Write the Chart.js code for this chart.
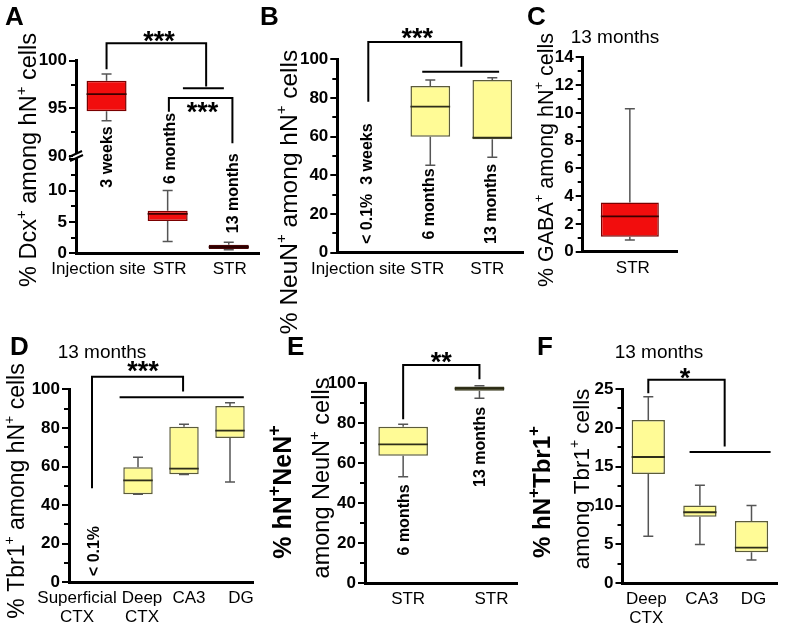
<!DOCTYPE html>
<html>
<head>
<meta charset="utf-8">
<script src="https://cdn.jsdelivr.net/npm/chart.js@4.4.1/dist/chart.umd.min.js"></script>
<style>
  html, body { margin: 0; padding: 0; background: #fff; }
  #wrap { position: relative; width: 793px; height: 630px; }
  #wrap canvas { position: absolute; left: 0; top: 0; }
</style>
</head>
<body>
<div id="wrap">
  <canvas id="cA" width="793" height="630"></canvas>
  <canvas id="cB" width="793" height="630"></canvas>
  <canvas id="cC" width="793" height="630"></canvas>
  <canvas id="cD" width="793" height="630"></canvas>
  <canvas id="cE" width="793" height="630"></canvas>
  <canvas id="cF" width="793" height="630"></canvas>
</div>
<script>
// ---- data (box plots: q1, q3, median, whisker low / high) ----
const catsA = ['Injection site', 'STR', 'STR'];
const q1A = [94.7, 5.15, 0.7];
const q3A = [97.9, 6.8, 1.35];
const medA = [96.5, 6.27, 1.0];
const loA = [93.7, 1.9, 0.55];
const hiA = [98.6, 10.0, 1.75];
const upperA = [true, false, false]; // which boxes sit above the axis break

const catsB = ['Injection site', 'STR', 'STR'];
const q1B = [null, 60, 58.6];
const q3B = [null, 86.2, 89.3];
const medB = [null, 75.5, 59.5];
const loB = [null, 45.2, 49.3];
const hiB = [null, 89.3, 90.5];

const catsC = ['STR'];
const q1C = [1.08];
const q3C = [3.55];
const medC = [2.55];
const loC = [0.85];
const hiC = [10.3];

const catsD = [['Superficial', 'CTX'], ['Deep', 'CTX'], 'CA3', 'DG'];
const q1D = [null, 45.6, 56.0, 74.8];
const q3D = [null, 59.6, 80.6, 91.3];
const medD = [null, 52.8, 58.9, 78.6];
const loD = [null, 45.6, 55.9, 52.0];
const hiD = [null, 64.8, 81.9, 93.0];

const catsE = ['STR', 'STR'];
const q1E = [63.8, 96.3];
const q3E = [78.3, 98.4];
const medE = [69.5, 97.4];
const loE = [53.3, 92.5];
const hiE = [79.5, 98.8];

const catsF = [['Deep', 'CTX'], 'CA3', 'DG'];
const q1F = [14.07, 8.57, 3.98];
const q3F = [21.0, 10.0, 8.0];
const medF = [16.25, 9.14, 4.58];
const loF = [6.05, 5.0, 3.0];
const hiF = [24.0, 12.6, 10.0];

// ---- styling ----
const FONT = '"Liberation Sans", Arial, Helvetica, sans-serif';
Chart.defaults.font.family = FONT;
Chart.defaults.color = '#000';
Chart.defaults.animation = false;

const RED = {fill: '#f20d0d', edge: '#7a0000', med: '#3d0000'};
const DARKRED = {fill: '#8e1c1c', edge: '#4a0505', med: '#2a0000'};
const YEL = {fill: '#fffb96', edge: '#5b5b3a', med: '#2e2e1a'};
const OLIVE = {fill: '#8f8f4c', edge: '#3c3c20', med: '#2a2a14'};
const WHISKER = '#555';
const YW = 40, XH = 40;

function pad(l, t, r, b) {
  return {left: l - YW, top: t, right: 793 - r, bottom: 630 - b - XH};
}

function boxSet(q1, q3, med, lo, hi, colors, bp, axis, keep) {
  const ok = i => q1[i] != null && (!keep || keep[i]);
  return {
    data: q1.map((v, i) => ok(i) ? [v, q3[i]] : null),
    med: med.map((v, i) => ok(i) ? v : null),
    lo: lo.map((v, i) => ok(i) ? v : null),
    hi: hi.map((v, i) => ok(i) ? v : null),
    backgroundColor: colors.map(c => c.fill),
    borderColor: colors.map(c => c.edge),
    medColors: colors.map(c => c.med),
    borderWidth: 1.5,
    borderSkipped: false,
    grouped: false,
    categoryPercentage: 1,
    barPercentage: bp,
    yAxisID: axis || 'y'
  };
}

function yScale(min, max, step, more) {
  return Object.assign({
    type: 'linear', position: 'left', min: min, max: max,
    grid: {display: false, drawTicks: false},
    border: {display: true, color: '#000', width: 3},
    ticks: {stepSize: step, padding: 9, autoSkip: false, color: '#000',
            font: {size: 17, weight: 'bold'}},
    afterFit: s => { s.width = YW; }
  }, more || {});
}

// category labels are drawn by the deco plugin (some are nudged sideways)
function xScale() {
  return {
    grid: {display: false, drawTicks: false},
    border: {display: true, color: '#000', width: 3},
    ticks: {display: false},
    afterFit: s => { s.height = XH; }
  };
}

// rich text: "^x" makes x a superscript
function drawRich(ctx, text, cx, cy, size, weight, rot, supScale) {
  const parts = text.split('^');
  const segs = [{t: parts[0], sup: false}];
  for (let i = 1; i < parts.length; i++) {
    segs.push({t: parts[i][0], sup: true});
    if (parts[i].length > 1) segs.push({t: parts[i].slice(1), sup: false});
  }
  const f = sup => (weight || 'normal') + ' ' + (sup ? Math.round(size * (supScale || 0.62)) : size) + 'px ' + FONT;
  let w = 0;
  segs.forEach(s => { ctx.font = f(s.sup); s.w = ctx.measureText(s.t).width; w += s.w; });
  ctx.save();
  ctx.translate(cx, cy);
  if (rot) ctx.rotate(-Math.PI / 2);
  ctx.fillStyle = '#000';
  ctx.textAlign = 'left';
  ctx.textBaseline = 'alphabetic';
  let x = -w / 2;
  const base = size * 0.36;
  segs.forEach(s => {
    ctx.font = f(s.sup);
    ctx.fillText(s.t, x, s.sup ? base - size * 0.45 : base);
    x += s.w;
  });
  ctx.restore();
}

const boxPlugin = {
  id: 'boxes',
  afterDatasetsDraw(chart) {
    const ctx = chart.ctx;
    chart.data.datasets.forEach((ds, di) => {
      const meta = chart.getDatasetMeta(di);
      const ys = chart.scales[meta.yAxisID];
      meta.data.forEach((bar, i) => {
        if (ds.data[i] == null) return;
        const x = bar.x, half = bar.width / 2, cap = 5;
        const yq1 = ys.getPixelForValue(ds.data[i][0]);
        const yq3 = ys.getPixelForValue(ds.data[i][1]);
        const ylo = ys.getPixelForValue(ds.lo[i]);
        const yhi = ys.getPixelForValue(ds.hi[i]);
        const ym = ys.getPixelForValue(ds.med[i]);
        ctx.save();
        ctx.strokeStyle = WHISKER;
        ctx.lineWidth = 1.5;
        ctx.beginPath();
        ctx.moveTo(x, yq3); ctx.lineTo(x, yhi);
        ctx.moveTo(x - cap, yhi); ctx.lineTo(x + cap, yhi);
        ctx.moveTo(x, yq1); ctx.lineTo(x, ylo);
        ctx.moveTo(x - cap, ylo); ctx.lineTo(x + cap, ylo);
        ctx.stroke();
        ctx.strokeStyle = ds.medColors[i];
        ctx.lineWidth = 1.8;
        ctx.beginPath();
        ctx.moveTo(x - half, ym); ctx.lineTo(x + half, ym);
        ctx.stroke();
        ctx.restore();
      });
    });
  }
};

function deco(cfg) {
  return {
    id: 'deco',
    afterDraw(chart) {
      const ctx = chart.ctx, xs = chart.scales.x;
      // tick marks, major and minor
      (cfg.ticks || []).forEach(t => {
        const s = chart.scales[t.axis];
        ctx.save();
        ctx.strokeStyle = '#000';
        ctx.lineWidth = 2;
        const top = t.upTo != null ? t.upTo : s.max;
        for (let v = s.min; v <= top + 1e-6; v += t.minor) {
          const y = Math.round(s.getPixelForValue(v));
          const r = v / t.major;
          const len = Math.abs(r - Math.round(r)) < 1e-6 ? 7 : 5;
          ctx.beginPath();
          ctx.moveTo(s.right, y); ctx.lineTo(s.right - len, y);
          ctx.stroke();
        }
        ctx.restore();
      });
      // axis break mark
      if (cfg.breakAt) {
        const s = chart.scales[cfg.breakAt];
        const x = s.right, y = s.bottom;
        ctx.save();
        ctx.fillStyle = '#fff';
        ctx.fillRect(x - 3, y - 2, 6, 4);
        ctx.strokeStyle = '#000';
        ctx.lineWidth = 2;
        ctx.beginPath();
        ctx.moveTo(x - 7, y + 1); ctx.lineTo(x + 6, y - 5);
        ctx.moveTo(x - 6, y + 5); ctx.lineTo(x + 7, y - 1);
        ctx.stroke();
        ctx.restore();
      }
      // significance brackets
      (cfg.lines || []).forEach(l => {
        const s = chart.scales[l.axis || 'y'];
        ctx.save();
        ctx.strokeStyle = '#000';
        ctx.lineWidth = 2;
        ctx.lineJoin = 'miter';
        ctx.beginPath();
        l.pts.forEach((p, k) => {
          const px = xs.getPixelForValue(p[0]), py = s.getPixelForValue(p[1]);
          if (k === 0) ctx.moveTo(px, py); else ctx.lineTo(px, py);
        });
        ctx.stroke();
        ctx.restore();
      });
      // annotations placed in data units
      (cfg.texts || []).forEach(t => {
        const s = chart.scales[t.axis || 'y'];
        const px = xs.getPixelForValue(t.x), py = s.getPixelForValue(t.y);
        if (t.star) {
          ctx.save();
          ctx.font = 'bold 27px ' + FONT;
          ctx.fillStyle = '#000';
          ctx.textAlign = 'center';
          ctx.textBaseline = 'alphabetic';
          ctx.fillText(t.text, px, py + 27 * 0.57);
          ctx.restore();
        } else {
          drawRich(ctx, t.text, px, py, 16, 'bold', true);
        }
      });
      // category labels
      ctx.save();
      ctx.font = '17px ' + FONT;
      ctx.fillStyle = '#000';
      ctx.textAlign = 'center';
      ctx.textBaseline = 'top';
      chart.data.labels.forEach((lab, i) => {
        const px = xs.getPixelForValue(i) + (cfg.xShift ? cfg.xShift[i] : 0);
        const lines = Array.isArray(lab) ? lab : [lab];
        lines.forEach((ln, k) => ctx.fillText(ln, px, chart.chartArea.bottom + 8 + k * 19));
      });
      ctx.restore();
      // axis titles, panel titles
      (cfg.titles || []).forEach(t => drawRich(ctx, t.text, t.cx, t.cy, t.size, t.weight, t.rot, t.sup));
      // panel letter
      if (cfg.letter) {
        ctx.save();
        ctx.font = 'bold 26px ' + FONT;
        ctx.fillStyle = '#000';
        ctx.textAlign = 'left';
        ctx.textBaseline = 'alphabetic';
        ctx.fillText(cfg.letter[0], cfg.letter[1], cfg.letter[2]);
        ctx.restore();
      }
    }
  };
}

function panel(id, labels, datasets, area, scales, cfg) {
  return new Chart(document.getElementById(id), {
    type: 'bar',
    data: {labels: labels, datasets: datasets},
    options: {
      responsive: false,
      animation: false,
      events: [],
      layout: {autoPadding: false, padding: pad(area[0], area[1], area[2], area[3])},
      plugins: {legend: {display: false}, tooltip: {enabled: false}},
      scales: Object.assign({x: xScale()}, scales)
    },
    plugins: [boxPlugin, deco(cfg)]
  });
}

// ---- A ----
const colorsA = [RED, RED, DARKRED];
panel('cA', catsA, [
  boxSet(q1A, q3A, medA, loA, hiA, colorsA, 0.655, 'yLo', upperA.map(u => !u)),
  boxSet(q1A, q3A, medA, loA, hiA, colorsA, 0.655, 'yHi', upperA)
], [76, 60.7, 259.3, 253.3], {
  yLo: yScale(0, 15.5, 5, {stack: 'a', stackWeight: 1,
    ticks: {stepSize: 5, padding: 9, autoSkip: false, color: '#000', font: {size: 17, weight: 'bold'},
            callback: v => (v % 5 === 0 && v <= 10) ? v : ''}}),
  yHi: yScale(90, 100, 5, {stack: 'a', stackWeight: 0.98})
}, {
  ticks: [{axis: 'yHi', minor: 2.5, major: 5}, {axis: 'yLo', minor: 2.5, major: 5, upTo: 15}],
  breakAt: 'yHi',
  lines: [
    {axis: 'yHi', pts: [[0, 99.1], [0, 101.83], [1.63, 101.83], [1.63, 97.3]]},
    {axis: 'yHi', pts: [[1.25, 97.1], [1.92, 97.1]]},
    {axis: 'yHi', pts: [[1.02, 94.65], [1.02, 96.1], [2.06, 96.1], [2.06, 91.35]]}
  ],
  texts: [
    {axis: 'yHi', x: 0.86, y: 102.7, text: '***', star: true},
    {axis: 'yHi', x: 1.57, y: 95.3, text: '***', star: true},
    {axis: 'yHi', x: 0, y: 89.9, text: '3 weeks'},
    {axis: 'yHi', x: 1.03, y: 90.8, text: '6 months'},
    {axis: 'yLo', x: 2.05, y: 9.57, text: '13 months'}
  ],
  xShift: [-8, 2, 1],
  titles: [{text: '% Dcx^+ among hN^+ cells', cx: 28, cy: 160, size: 23.5, rot: true}],
  letter: ['A', 5, 25]
});

// ---- B ----
panel('cB', catsB, [
  boxSet(q1B, q3B, medB, loB, hiB, [YEL, YEL, YEL], 0.64)
], [337.3, 59.3, 523.3, 252.7], {y: yScale(0, 100, 20)}, {
  ticks: [{axis: 'y', minor: 10, major: 20}],
  lines: [
    {pts: [[0, 78.1], [0, 108.9], [1.5, 108.9], [1.5, 96.2]]},
    {pts: [[0.87, 93.6], [2.11, 93.6]]}
  ],
  texts: [
    {x: 0.79, y: 114.2, text: '***', star: true},
    {x: -0.03, y: 35.7, text: '< 0.1%  3 weeks'},
    {x: 0.97, y: 25.2, text: '6 months'},
    {x: 1.96, y: 25.2, text: '13 months'}
  ],
  xShift: [-10, -3, -5],
  titles: [{text: '% NeuN^+ among hN^+ cells', cx: 288, cy: 192, size: 24.5, rot: true}],
  letter: ['B', 260, 25]
});

// ---- C ----
panel('cC', catsC, [
  boxSet(q1C, q3C, medC, loC, hiC, [RED], 0.615)
], [582.7, 57.3, 677, 251.7], {y: yScale(0, 14, 2)}, {
  ticks: [{axis: 'y', minor: 1, major: 2}],
  xShift: [3],
  titles: [
    {text: '% GABA^+ among hN^+ cells', cx: 545, cy: 160, size: 21.5, rot: true},
    {text: '13 months', cx: 615, cy: 36, size: 19}
  ],
  letter: ['C', 527, 25]
});

// ---- D ----
panel('cD', catsD, [
  boxSet(q1D, q3D, medD, loD, hiD, [YEL, YEL, YEL, YEL], 0.64)
], [69, 389.3, 253, 582.3], {y: yScale(0, 100, 20)}, {
  ticks: [{axis: 'y', minor: 10, major: 20}],
  lines: [
    {pts: [[0, 48.7], [0, 106.5], [1.98, 106.5], [1.98, 98.8]]},
    {pts: [[0.6, 95.9], [3.3, 95.9]]}
  ],
  texts: [
    {x: 1.11, y: 112.6, text: '***', star: true},
    {x: 0.03, y: 16.2, text: '< 0.1%'}
  ],
  xShift: [-15, 4, 5, 11],
  titles: [
    {text: '% Tbr1^+ among hN^+ cells', cx: 16, cy: 491, size: 23, rot: true},
    {text: '13 months', cx: 102, cy: 351, size: 19}
  ],
  letter: ['D', 10, 355]
});

// ---- E ----
panel('cE', catsE, [
  boxSet(q1E, q3E, medE, loE, hiE, [YEL, OLIVE], 0.65)
], [365, 383.3, 517.6, 583.3], {y: yScale(0, 100, 20)}, {
  ticks: [{axis: 'y', minor: 10, major: 20}],
  lines: [
    {pts: [[0, 82], [0, 109.2], [1, 109.2], [1, 102]]}
  ],
  texts: [
    {x: 0.5, y: 113.6, text: '**', star: true},
    {x: 0, y: 31.7, text: '6 months'},
    {x: 1.0, y: 68.2, text: '13 months'}
  ],
  xShift: [5, 12],
  titles: [
    {text: '% hN^+NeN^+', cx: 282, cy: 492, size: 25, weight: 'bold', rot: true, sup: 0.7},
    {text: 'among NeuN^+ cells', cx: 321, cy: 478, size: 23.5, rot: true}
  ],
  letter: ['E', 287, 355]
});

// ---- F ----
panel('cF', catsF, [
  boxSet(q1F, q3F, medF, loF, hiF, [YEL, YEL, YEL], 0.645)
], [622.5, 389, 777.3, 583.3], {y: yScale(0, 25, 5)}, {
  ticks: [{axis: 'y', minor: 2.5, major: 5}],
  lines: [
    {pts: [[0, 24.45], [0, 26.2], [1.48, 26.2], [1.48, 17.6]]},
    {pts: [[0.8, 16.9], [2.37, 16.9]]}
  ],
  texts: [
    {x: 0.71, y: 27.2, text: '*', star: true}
  ],
  xShift: [-2, 2, 2],
  titles: [
    {text: '% hN^+Tbr1^+', cx: 541, cy: 492, size: 24, weight: 'bold', rot: true, sup: 0.7},
    {text: 'among Tbr1^+ cells', cx: 581, cy: 479, size: 22.5, rot: true},
    {text: '13 months', cx: 659, cy: 351, size: 19}
  ],
  letter: ['F', 537, 355]
});
</script>
</body>
</html>
